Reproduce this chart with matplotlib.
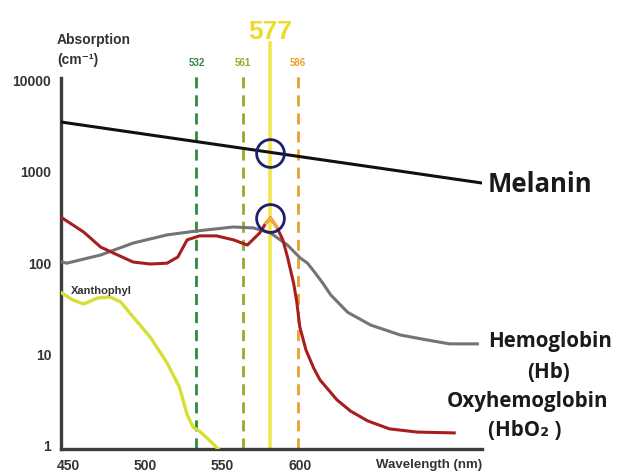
import matplotlib
matplotlib.use("Agg")
import matplotlib.pyplot as plt

# absorption spectra (wavelength in nm, absorption in cm^-1)
melanin_nm = [445, 500, 550, 600, 650, 700, 718]
melanin_abs = [3510, 2575, 1944, 1466, 1107, 834, 754]

hb_nm = [446, 449, 471, 492, 514, 533, 557, 570, 581, 592, 600, 605, 610, 615,
         620, 631, 646, 665, 682, 697, 715]
hb_abs = [103, 100, 123, 166, 204, 225, 249, 243, 214, 158, 115, 100, 78, 60,
          45, 29, 21, 16.4, 14.5, 13.1, 13.1]

hbo2_nm = [445, 460, 471, 482, 492, 503, 514, 521, 527, 535, 546, 557, 566, 574,
           578, 581, 585, 589, 592, 594, 596, 598, 600, 604, 609, 613, 624, 633,
           644, 658, 676, 700]
hbo2_abs = [321, 219, 150, 123, 103, 98, 100, 117, 180, 199, 199, 180, 158, 214,
            275, 313, 249, 180, 117, 84, 60, 38, 20, 11.2, 7.1, 5.3, 3.2, 2.4,
            1.88, 1.54, 1.42, 1.39]

xanth_nm = [446, 453, 460, 469, 477, 484, 492, 503, 514, 522, 527, 531, 535, 540, 547]
xanth_abs = [47, 39.5, 35.8, 41.6, 42.7, 37.6, 25.8, 15.6, 8.1, 4.4, 2.2, 1.6,
             1.45, 1.22, 0.93]

# laser lines: position read on the axis, and the label printed above
laser_pos = [533, 563, 599]
laser_labels = ["532", "561", "586"]
laser_colors = ["#2f8a3c", "#8fae2a", "#e8a22a"]
main_pos = 581
main_label = "577"

# circled points (577 nm on melanin and on the HbO2 peak)
circle_nm = [581, 581]
circle_abs = [1607, 313]

xticks = [450, 500, 550, 600]
yticks = [1, 10, 100, 1000, 10000]

W, H = 622, 472
fig = plt.figure(figsize=(W / 100, H / 100), dpi=100)
ax = fig.add_axes([61 / W, 1 - 449 / H, (482 - 61) / W, (449 - 78) / H])
ax.set_yscale("log")
ax.set_xlim(445.3, 718)
ax.set_ylim(0.927, 10620)

for pos, col in zip(laser_pos, laser_colors):
    ax.axvline(pos, ymin=0, ymax=1.008, color=col, lw=2, ls=(0, (4, 2.5)),
               clip_on=False, zorder=1)
ax.axvline(main_pos, ymin=0, ymax=1.094, color="#f1e64c", lw=2.6,
           clip_on=False, zorder=1)

ax.plot(melanin_nm, melanin_abs, color="#111111", lw=2.2, zorder=3)
ax.plot(hb_nm, hb_abs, color="#747474", lw=2.2, zorder=3,
        solid_joinstyle="round")
ax.plot(hbo2_nm, hbo2_abs, color="#a81e1e", lw=2.2, zorder=4,
        solid_joinstyle="round")
ax.plot(hbo2_nm[14:17], hbo2_abs[14:17], color="#f0b040", lw=2.2, zorder=5)
ax.plot(xanth_nm, xanth_abs, color="#d6e034", lw=2.4, zorder=3,
        solid_joinstyle="round")

ax.plot(circle_nm, circle_abs, ls="none", marker="o", ms=20, mfc="none",
        mec="#1c1f6e", mew=2.0, zorder=6)

# axes styling
for s in ["top", "right"]:
    ax.spines[s].set_visible(False)
for s in ["left", "bottom"]:
    ax.spines[s].set_color("#3c3c3c")
    ax.spines[s].set_linewidth(2.4)
ax.set_xticks(xticks)
ax.set_xticklabels([str(v) for v in xticks])
ax.set_yticks(yticks)
ax.set_yticklabels([str(v) for v in yticks])
ax.minorticks_off()
ax.tick_params(length=0, labelsize=10, labelcolor="#333333")
ax.tick_params(axis="x", pad=7)
ax.tick_params(axis="y", pad=7)
for lab in ax.get_xticklabels() + ax.get_yticklabels():
    lab.set_fontfamily("Liberation Sans")
    lab.set_fontweight("bold")

tf = ax.get_xaxis_transform()
for pos, lab, col in zip(laser_pos, laser_labels, laser_colors):
    ax.text(pos, 1.04, lab, transform=tf, ha="center", va="center",
            color=col, fontsize=7, fontweight="bold", family="Liberation Sans")
ax.text(main_pos, 1.125, main_label, transform=tf, ha="center", va="center",
        color="#e8de2a", fontsize=19, fontweight="bold", family="Liberation Sans")

ax.text(452, 50, "Xanthophyl", color="#333333", fontsize=8, fontweight="bold",
        family="Liberation Sans", va="center")

lbl = dict(fontweight="bold", family="Liberation Sans", color="#333333")
fig.text(57 / W, 1 - 40 / H, "Absorption", fontsize=10, va="center", **lbl)
fig.text(57 / W, 1 - 60 / H, "(cm⁻¹)", fontsize=10, va="center",
         fontweight="bold", family=["Liberation Sans", "DejaVu Sans"],
         color="#333333")
fig.text(482 / W, 1 - 465 / H, "Wavelength (nm)", fontsize=9.5, va="center",
         ha="right", **lbl)

rt = dict(fontweight="bold", family=["Open Sans", "DejaVu Sans"], color="#1a1a1a",
          va="center")
fig.text(488 / W, 1 - 184 / H, "Melanin", fontsize=18.5, **rt)
fig.text(488 / W, 1 - 342 / H, "Hemoglobin", fontsize=14.8, **rt)
fig.text(548 / W, 1 - 373 / H, "(Hb)", fontsize=14.8, ha="center", **rt)
fig.text(447 / W, 1 - 401 / H, "Oxyhemoglobin", fontsize=14.8, **rt)
fig.text(488 / W, 1 - 430 / H, "(HbO₂ )", fontsize=14.8, **rt)

fig.savefig("out.png", dpi=100)
